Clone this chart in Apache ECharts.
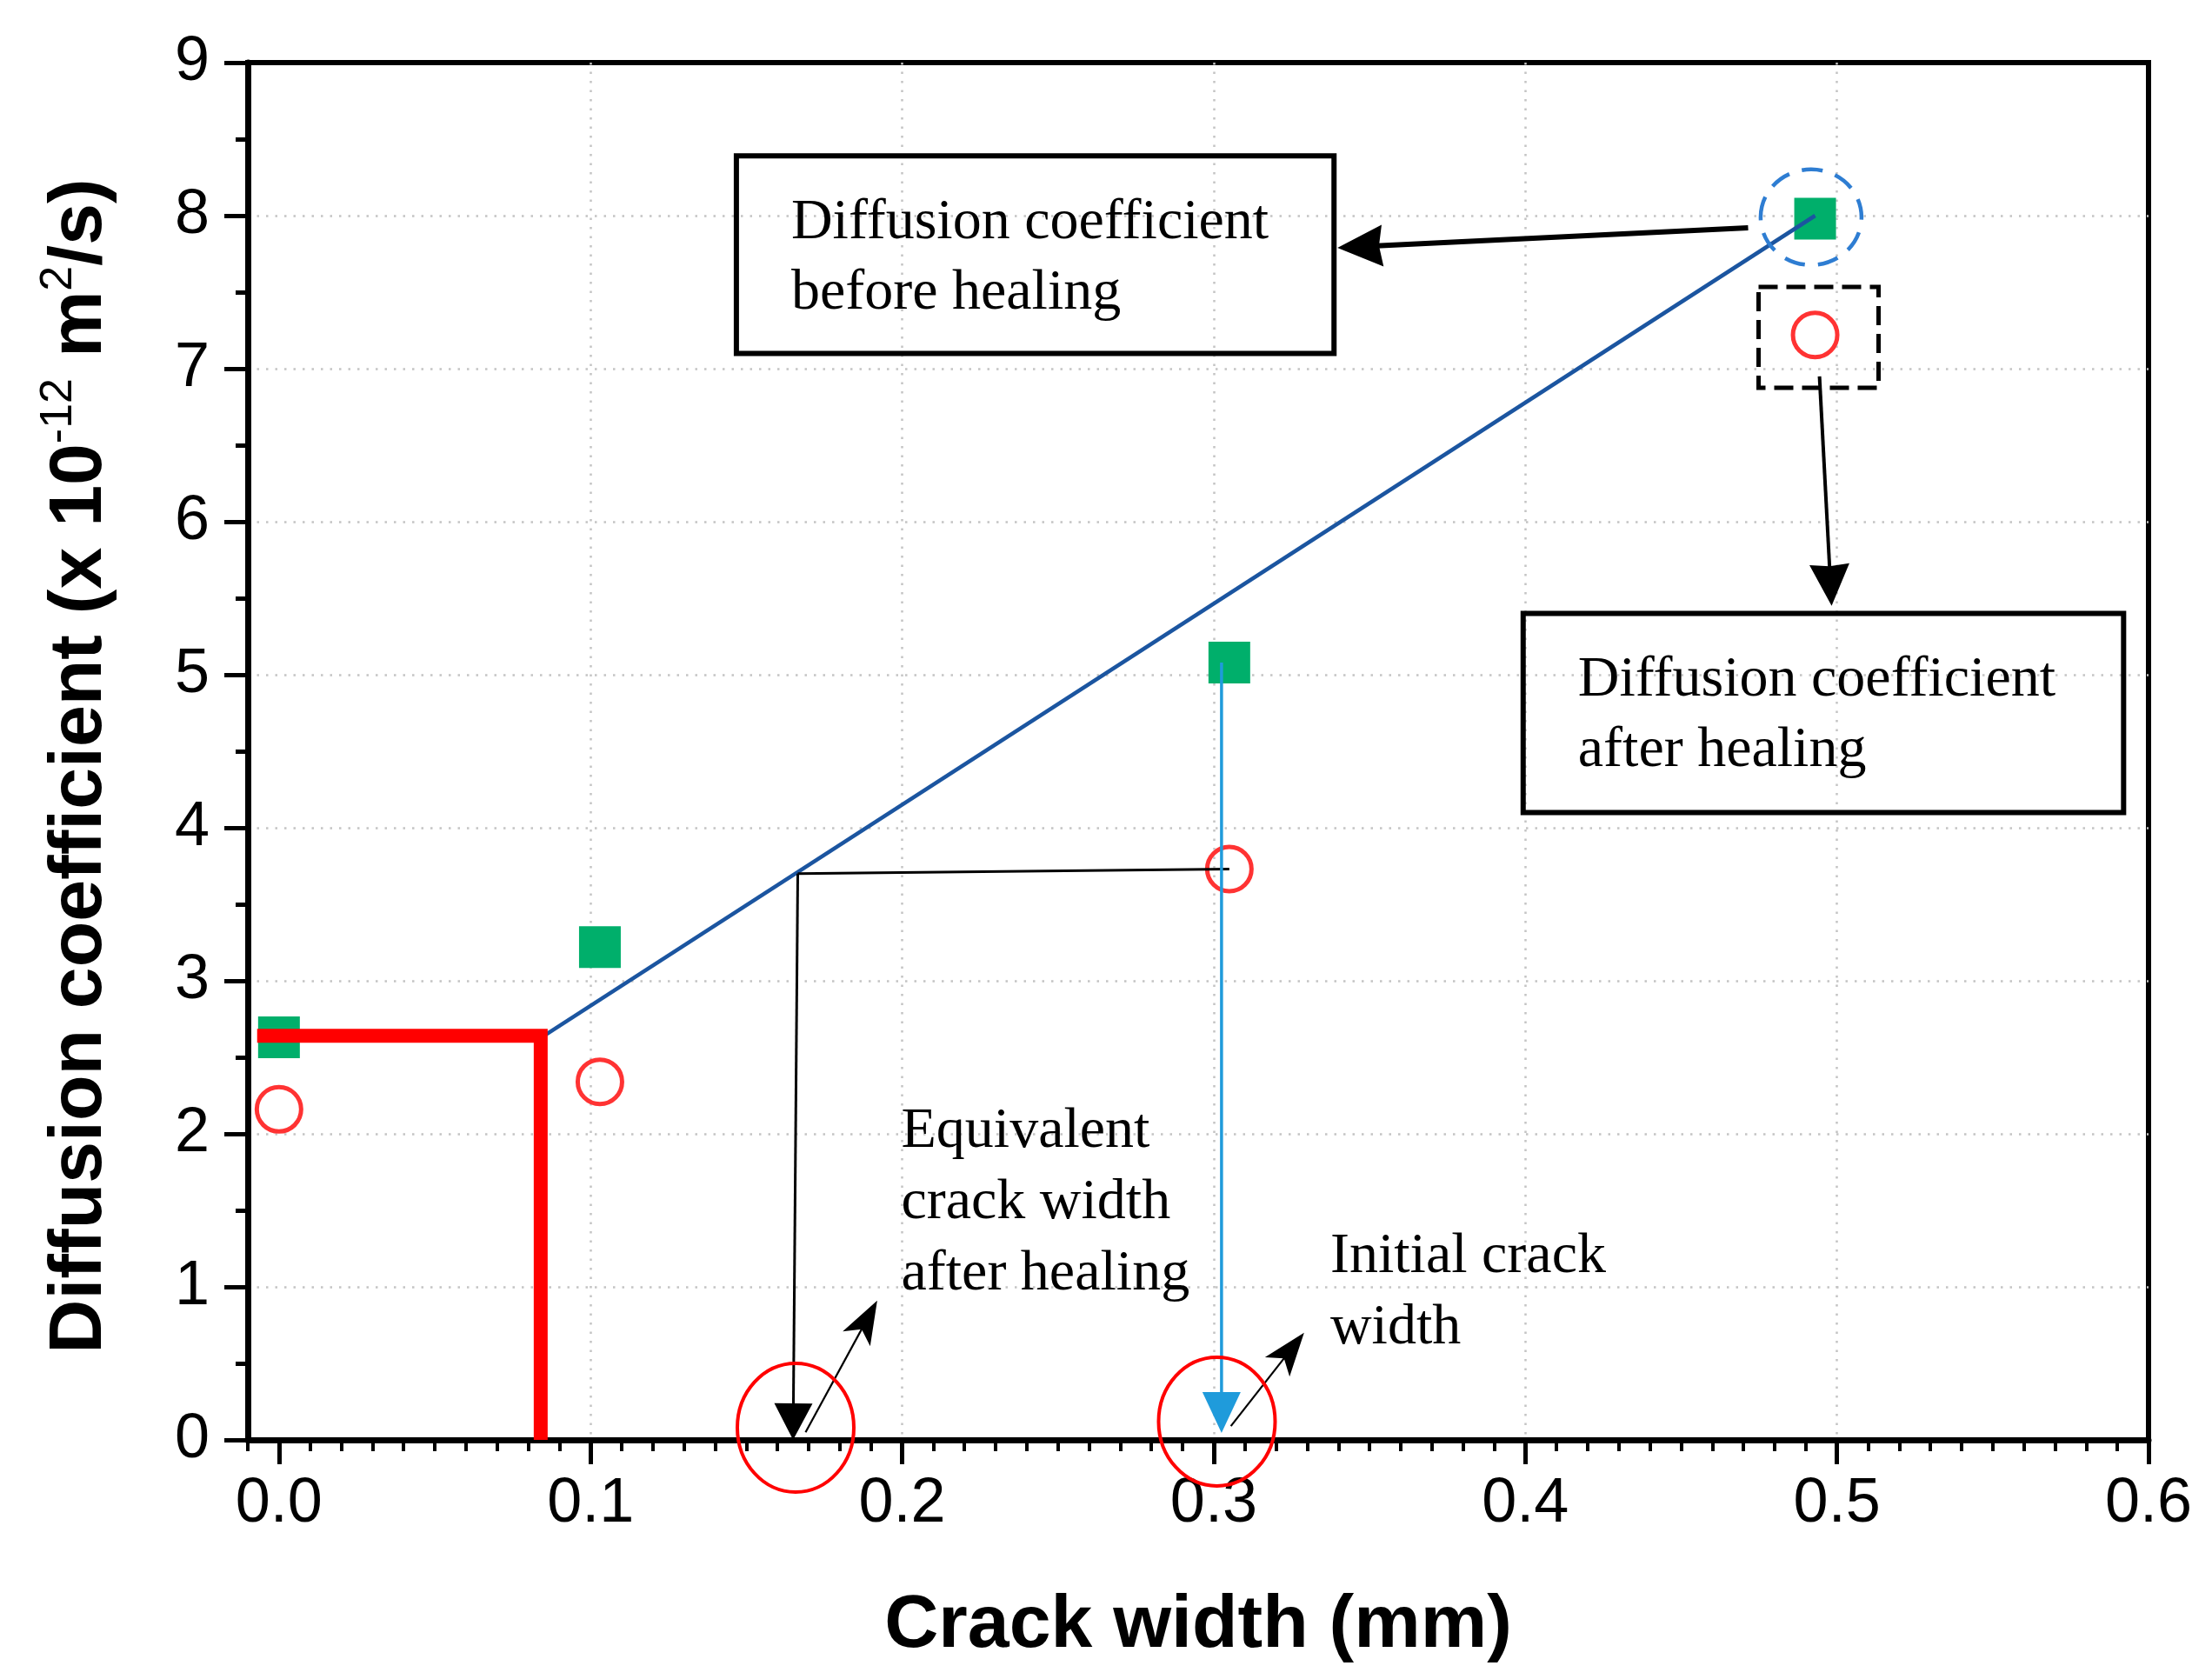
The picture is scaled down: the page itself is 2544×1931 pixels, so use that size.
<!DOCTYPE html>
<html><head><meta charset="utf-8">
<script src="https://cdn.jsdelivr.net/npm/echarts@6/dist/echarts.min.js"></script>
<style>html,body{margin:0;padding:0;background:#fff}#c{width:2544px;height:1931px}</style>
</head><body><div id="c"></div><script>
// ---------------- data ----------------
const crackWidth = [0.0, 0.103, 0.305, 0.493];
const dBefore    = [2.63, 3.22, 5.08, 7.98];
const dAfter     = [2.16, 2.34, 3.73, 7.22];
const xTickValues = [0, 0.1, 0.2, 0.3, 0.4, 0.5, 0.6];
const fitLine       = [[0.085, 2.64], [0.493, 8.0]];
const thresholdLine = [[-0.007, 2.64], [0.084, 2.64], [0.084, 0.0]];
const healedLevel   = [[0.305, 3.73], [0.1665, 3.70]];
const arrowFrom = [[0.1665, 3.70], [0.3025, 5.08], [0.169, 0.05], [0.3055, 0.09], [0.4715, 7.92], [0.4944, 6.95]];
const arrowTo   = [[0.165, 0.0],   [0.3025, 0.045], [0.192, 0.91], [0.329, 0.70], [0.3397, 7.79], [0.4983, 5.45]];
const ellipseCenters = [[0.1658, 0.08], [0.301, 0.12]];
const highlightCircle = [[0.4917, 7.99]];
const highlightSquare = [[0.4941, 7.205]];
const boxCorners = [[0.1468, 8.39, 0.3386, 7.10], [0.3993, 5.40, 0.5920, 4.10]];
const boxTexts = [['Diffusion coefficient', 'before healing'], ['Diffusion coefficient', 'after healing']];
const noteAnchors = [[0.1997, 1.92], [0.3374, 1.10]];
const noteTexts = [['Equivalent', 'crack width', 'after healing'], ['Initial crack', 'width']];

// minor tick positions of the x axis (every 0.01)
const minorXTicks = [];
for (let k = -1; k <= 60; k++) minorXTicks.push(+(k / 100).toFixed(2));

// ---------------- styles ----------------
const FONT_SANS = '"Liberation Sans", Arial, Helvetica, sans-serif';
const FONT_SERIF = '"Liberation Serif", "Times New Roman", Times, serif';
const GRID = { left: 285, right: 73, top: 72, bottom: 275 };
const arrowStyles = [
  { w: 3,   len: 42, head: 44, notch: 0,    color: '#000' },
  { w: 3.5, len: 47, head: 44, notch: 0,    color: '#1F9BDB' },
  { w: 2.2, len: 50, head: 36, notch: 0.25, color: '#000' },
  { w: 2.2, len: 50, head: 36, notch: 0.25, color: '#000' },
  { w: 6,   len: 52, head: 48, notch: 0.08, color: '#000' },
  { w: 4,   len: 48, head: 46, notch: 0.05, color: '#000' }
];
const TXT_FS = 66;
const gridSplit = { show: true, showMinLine: false, showMaxLine: false, lineStyle: { color: '#c4c4c4', width: 2.5, type: [2.5, 8] } };

const chart = echarts.init(document.getElementById('c'), null, { renderer: 'canvas', width: 2544, height: 1931 });

function renderArrow(params, api) {
  const st = arrowStyles[params.dataIndex];
  const a = api.coord([api.value(0), api.value(1)]);
  const b = api.coord([api.value(2), api.value(3)]);
  const dx = b[0] - a[0], dy = b[1] - a[1], L = Math.hypot(dx, dy);
  const ux = dx / L, uy = dy / L, nx = -uy, ny = ux;
  const bx = b[0] - ux * st.len, by = b[1] - uy * st.len;
  const kx = b[0] - ux * st.len * (1 - st.notch), ky = b[1] - uy * st.len * (1 - st.notch);
  return {
    type: 'group', children: [
      { type: 'line', shape: { x1: a[0], y1: a[1], x2: kx + ux * 3, y2: ky + uy * 3 }, style: { stroke: st.color, lineWidth: st.w, fill: 'none' } },
      { type: 'polygon', shape: { points: [[b[0], b[1]], [bx + nx * st.head / 2, by + ny * st.head / 2], [kx, ky], [bx - nx * st.head / 2, by - ny * st.head / 2]] }, style: { fill: st.color, stroke: 'none' } }
    ]
  };
}
function renderEllipse(params, api) {
  const c = api.coord([api.value(0), api.value(1)]);
  return { type: 'ellipse', shape: { cx: c[0], cy: c[1], rx: 67, ry: 74 }, style: { fill: 'none', stroke: '#FF0000', lineWidth: 4 } };
}
function renderHighlightCircle(params, api) {
  const c = api.coord([api.value(0), api.value(1)]);
  return { type: 'ellipse', shape: { cx: c[0], cy: c[1], rx: 58, ry: 55 }, style: { fill: 'none', stroke: '#2E7DD2', lineWidth: 4.5, lineDash: [24, 15] } };
}
function renderHighlightSquare(params, api) {
  const c = api.coord([api.value(0), api.value(1)]);
  return { type: 'rect', shape: { x: c[0] - 69, y: c[1] - 58, width: 138, height: 116 }, style: { fill: 'none', stroke: '#000', lineWidth: 5, lineDash: [22, 10] } };
}
function textEl(x, baseline, txt) {
  return { type: 'text', x: x, y: baseline - 0.25 * TXT_FS, style: { text: txt, fill: '#000', fontSize: TXT_FS, fontFamily: FONT_SERIF, align: 'left', verticalAlign: 'middle' } };
}
function renderBox(params, api) {
  const i = params.dataIndex;
  const p1 = api.coord([api.value(0), api.value(1)]);
  const p2 = api.coord([api.value(2), api.value(3)]);
  const lines = boxTexts[i];
  const children = [{ type: 'rect', shape: { x: p1[0], y: p1[1], width: p2[0] - p1[0], height: p2[1] - p1[1] }, style: { fill: 'none', stroke: '#000', lineWidth: 6 } }];
  lines.forEach((t, k) => children.push(textEl(p1[0] + 63, p1[1] + 94 + k * 81, t)));
  return { type: 'group', children };
}
function renderNote(params, api) {
  const i = params.dataIndex;
  const p = api.coord([api.value(0), api.value(1)]);
  return { type: 'group', children: noteTexts[i].map((t, k) => textEl(p[0], p[1] + k * 82, t)) };
}

const option = {
  animation: false,
  backgroundColor: '#fff',
  grid: [
    Object.assign({ show: true, borderColor: '#000', borderWidth: 6, backgroundColor: 'transparent' }, GRID),
    Object.assign({ show: false }, GRID)
  ],
  xAxis: [
    {
      type: 'value', gridIndex: 0, min: -0.01, max: 0.6, position: 'bottom',
      axisLine: { show: true, onZero: false, lineStyle: { color: '#000', width: 7 } },
      axisTick: { show: true, length: 28, customValues: xTickValues, lineStyle: { color: '#000', width: 5 } },
      axisLabel: { show: true, customValues: xTickValues, formatter: v => v.toFixed(1), margin: 38, fontSize: 72, color: '#000', fontFamily: FONT_SANS },
      splitLine: gridSplit,
      name: 'Crack width (mm)', nameLocation: 'middle', nameGap: 171,
      nameTextStyle: { fontSize: 86, fontWeight: 'bold', color: '#000', fontFamily: FONT_SANS }
    },
    {
      type: 'value', gridIndex: 1, min: -0.01, max: 0.6, position: 'bottom',
      axisLine: { show: false, onZero: false },
      axisTick: { show: true, length: 13, customValues: minorXTicks, lineStyle: { color: '#000', width: 4 } },
      axisLabel: { show: false }, splitLine: { show: false }
    }
  ],
  yAxis: [
    {
      type: 'value', gridIndex: 0, min: 0, max: 9, interval: 1,
      axisLine: { show: true, onZero: false, lineStyle: { color: '#000', width: 7 } },
      axisTick: { show: true, length: 27, lineStyle: { color: '#000', width: 5 } },
      minorTick: { show: true, splitNumber: 2, length: 14, lineStyle: { color: '#000', width: 5 } },
      axisLabel: { margin: 44, fontSize: 72, color: '#000', fontFamily: FONT_SANS },
      splitLine: gridSplit,
      name: '{b|Diffusion coefficient (x 10}{s|-12}{b| m}{s|2}{b|/s)}',
      nameLocation: 'middle', nameGap: 143, nameRotate: 90,
      nameTextStyle: {
        padding: [0, 34, 0, 0],
        rich: {
          b: { fontSize: 86, fontWeight: 'bold', color: '#000', fontFamily: FONT_SANS, lineHeight: 100 },
          s: { fontSize: 52, fontWeight: 'normal', color: '#000', fontFamily: FONT_SANS, lineHeight: 64, verticalAlign: 'top' }
        }
      }
    },
    { type: 'value', gridIndex: 1, min: 0, max: 9, show: false }
  ],
  series: [
    { type: 'scatter', name: 'Before healing', data: crackWidth.map((x, i) => [x, dBefore[i]]), symbol: 'rect', symbolSize: 48, itemStyle: { color: '#00AF6B', opacity: 1 }, z: 2 },
    { type: 'scatter', name: 'After healing', data: crackWidth.map((x, i) => [x, dAfter[i]]), symbol: 'circle', symbolSize: 51, itemStyle: { color: 'rgba(0,0,0,0)', borderColor: '#FF3333', borderWidth: 5, opacity: 1 }, z: 3 },
    { type: 'line', data: fitLine, symbol: 'none', lineStyle: { color: '#1B55A0', width: 4.5 }, z: 4 },
    { type: 'line', data: thresholdLine, symbol: 'none', lineStyle: { color: '#FF0000', width: 16, cap: 'butt', join: 'miter' }, z: 5 },
    { type: 'line', data: healedLevel, symbol: 'none', lineStyle: { color: '#000', width: 3 }, z: 5 },
    { type: 'custom', data: arrowFrom.map((p, i) => [p[0], p[1], arrowTo[i][0], arrowTo[i][1]]), encode: { x: [0, 2], y: [1, 3] }, renderItem: renderArrow, z: 6 },
    { type: 'custom', data: ellipseCenters, encode: { x: 0, y: 1 }, renderItem: renderEllipse, z: 6 },
    { type: 'custom', data: highlightCircle, encode: { x: 0, y: 1 }, renderItem: renderHighlightCircle, z: 6 },
    { type: 'custom', data: highlightSquare, encode: { x: 0, y: 1 }, renderItem: renderHighlightSquare, z: 6 },
    { type: 'custom', data: boxCorners, encode: { x: [0, 2], y: [1, 3] }, renderItem: renderBox, z: 6 },
    { type: 'custom', data: noteAnchors, encode: { x: 0, y: 1 }, renderItem: renderNote, z: 6 }
  ]
};
chart.setOption(option);
</script></body></html>
